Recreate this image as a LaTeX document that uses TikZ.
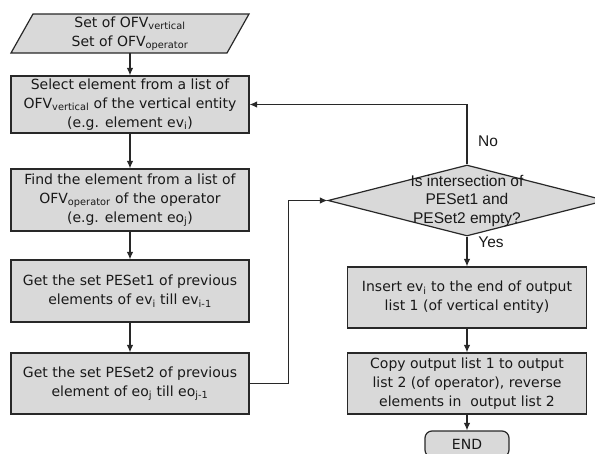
\documentclass[tikz,border=0pt]{standalone}
\usepackage{fontspec}
\setmainfont{DejaVu Sans}
\newfontfamily\decfont{Liberation Sans}
\usetikzlibrary{arrows.meta,shapes.geometric}
\definecolor{boxfill}{RGB}{217,217,217}
\definecolor{edge}{RGB}{40,40,40}
\definecolor{ink}{RGB}{25,25,25}
\begin{document}
\begin{tikzpicture}[x=1pt,y=-1pt,
  boxtext/.style={font=\fontsize{14}{19}\selectfont, text=ink, align=center},
  proc/.style={boxtext, draw=edge, line width=1.2pt, fill=boxfill,
    minimum width=238pt, inner sep=0pt},
  dectext/.style={font=\decfont\fontsize{15.5}{18.5}\selectfont, text=ink, align=center},
  flow/.style={draw=edge, line width=1.1pt, -{Latex[length=7.5pt,width=6.5pt]}}]
\useasboundingbox (0,0) rectangle (595,453);
\clip (0,0) rectangle (595,453);

% input parallelogram
\draw[draw=edge, line width=1.2pt, fill=boxfill] (33,14) -- (249,14) -- (227,53) -- (11,53) -- cycle;
\node[boxtext, minimum height=39pt, inner sep=0pt] (in) at (130,33.5)
  {Set of OFV\textsubscript{vertical}\\ Set of OFV\textsubscript{operator}};

% left column
\node[proc, minimum height=57pt] (b1) at (130,104.5)
  {Select element from a list of\\ OFV\textsubscript{vertical} of the vertical entity\\ (e.g. element ev\textsubscript{i})};
\node[proc, minimum height=62pt] (b2) at (130,200)
  {Find the element from a list of\\ OFV\textsubscript{operator} of the operator\\ (e.g. element eo\textsubscript{j})};
\node[proc, minimum height=62pt] (b3) at (130,291)
  {Get the set PESet1 of previous\\ elements of ev\textsubscript{i} till ev\textsubscript{i-1}};
\node[proc, minimum height=61pt] (b4) at (130,383.5)
  {Get the set PESet2 of previous\\ element of eo\textsubscript{j} till eo\textsubscript{j-1}};

% decision
\node[shape=diamond, draw=edge, line width=1.2pt, fill=boxfill, inner sep=0pt,
  minimum width=278pt, minimum height=71pt] (dec) at (467,200.5) {};
\node[dectext] (dect) at (467,200.5) {Is intersection of\\ PESet1 and\\ PESet2 empty?};

% right column
\node[proc, minimum width=239pt, minimum height=61pt] (b5) at (467,297.5)
  {Insert ev\textsubscript{i} to the end of output\\ list 1 (of vertical entity)};
\node[proc, minimum width=239pt, minimum height=61pt] (b6) at (467,383.5)
  {Copy output list 1 to output\\ list 2 (of operator), reverse\\ elements in\ \ output list 2};
\node[proc, minimum width=84pt, minimum height=26pt, rounded corners=7pt] (end) at (467,444) {END};

% connectors
\draw[flow] (in.south) -- (b1.north);
\draw[flow] (b1) -- (b2);
\draw[flow] (b2) -- (b3);
\draw[flow] (b3) -- (b4);
\draw[flow] (b4.east) -- ++(39,0) |- (dec.west);
\draw[flow] (dec.north) |- (b1.east);
\draw[flow] (dec.south) -- (b5.north);
\draw[flow] (b5) -- (b6);
\draw[flow] (b6) -- (end);

% branch labels
\node[dectext] (no) at (488,141) {No};
\node[dectext] (yes) at (491,242) {Yes};
\end{tikzpicture}
\end{document}
